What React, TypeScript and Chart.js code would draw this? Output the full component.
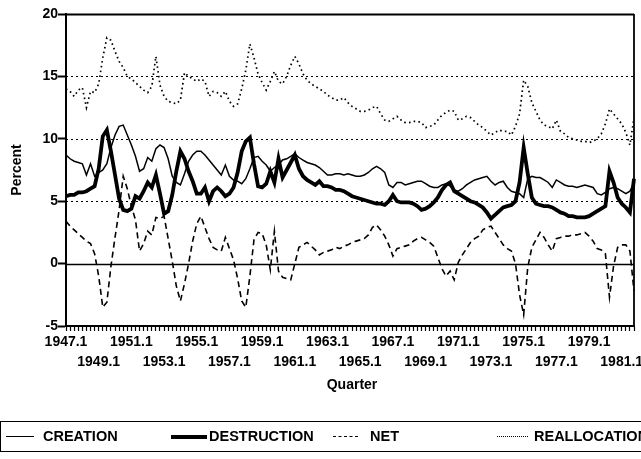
import React, { useEffect, useRef } from "react";
import { Chart, registerables } from "chart.js";

Chart.register(...registerables);

const START_YEAR = 1947;

const creation = [
  8.7, 8.4, 8.2, 8.1, 8.0, 7.1, 8.0, 7.0, 7.3, 7.5,
  8.0, 9.3, 10.3, 11.0, 11.1, 10.3, 9.5, 8.6, 7.4, 7.6,
  8.5, 8.2, 9.2, 9.5, 9.3, 8.4, 7.0, 6.5, 6.3, 7.2,
  8.2, 8.7, 9.0, 9.0, 8.7, 8.3, 7.9, 7.5, 7.1, 7.9,
  7.0, 6.7, 6.6, 6.4, 6.8, 7.6, 8.5, 8.6, 8.2, 7.9,
  7.4, 7.7, 7.9, 8.3, 8.4, 8.6, 8.8, 8.5, 8.3, 8.1,
  8.0, 7.9, 7.7, 7.4, 7.1, 7.1, 7.2, 7.2, 7.1, 7.2,
  7.1, 7.0, 7.0, 7.1, 7.3, 7.6, 7.8, 7.6, 7.3, 6.3,
  6.1, 6.5, 6.5, 6.3, 6.4, 6.5, 6.6, 6.6, 6.4, 6.2,
  6.1, 6.1, 6.3, 6.4, 6.2, 5.9, 5.8, 6.0, 6.3, 6.5,
  6.7, 6.8, 6.9, 7.0, 6.6, 6.3, 6.5, 6.6, 6.1, 5.8,
  5.7, 5.6, 5.3, 6.8, 7.0, 6.9, 6.9, 6.7, 6.5, 6.1,
  6.7, 6.5, 6.3, 6.2, 6.2, 6.1, 6.2, 6.3, 6.2, 6.1,
  5.6, 5.5, 5.7, 6.0, 6.1, 6.0, 5.8, 5.6, 5.8, 6.5,
];

const destruction = [
  5.4, 5.5, 5.5, 5.7, 5.7, 5.8, 6.0, 6.2, 7.6, 10.2,
  10.7, 9.0, 7.1, 5.2, 4.3, 4.2, 4.4, 5.4, 5.2, 5.8,
  6.5, 6.1, 7.1, 5.6, 4.0, 4.2, 5.5, 7.4, 9.0, 8.4,
  7.4, 6.6, 5.6, 5.6, 6.1, 5.0, 5.8, 6.1, 5.8, 5.4,
  5.6, 6.1, 7.3, 9.0, 9.8, 10.1, 8.0, 6.2, 6.1, 6.4,
  7.4, 6.5, 8.4, 6.9, 7.5, 8.1, 8.7, 7.6, 7.0, 6.7,
  6.5, 6.3, 6.6, 6.2, 6.2, 6.1, 5.9, 5.9, 5.8, 5.6,
  5.4, 5.3, 5.2, 5.1, 5.0, 4.9, 4.8, 4.8, 4.7, 5.0,
  5.5, 5.0, 4.9, 4.9, 4.9, 4.8, 4.6, 4.3, 4.4, 4.6,
  4.9, 5.3, 5.9, 6.3, 6.5, 5.8, 5.6, 5.4, 5.2, 5.0,
  4.9, 4.7, 4.5, 4.1, 3.6, 3.9, 4.2, 4.5, 4.6, 4.7,
  5.0, 6.5, 9.3, 7.2, 5.3, 4.8, 4.7, 4.6, 4.6, 4.5,
  4.3, 4.1, 4.0, 3.8, 3.8, 3.7, 3.7, 3.7, 3.8, 4.0,
  4.2, 4.4, 4.6, 7.4, 6.5, 5.3, 4.8, 4.5, 4.1, 6.8,
];

const net = [
  3.4, 3.0, 2.7, 2.4, 2.1, 1.8, 1.6, 0.8, -1.0, -3.5,
  -3.1, -0.2, 2.1, 4.3, 7.0, 6.0, 4.6, 3.5, 1.0, 1.6,
  2.6, 2.3, 3.7, 3.6, 3.8, 2.0, 0.2, -1.8, -3.0, -1.6,
  0.0, 1.8, 3.2, 3.8, 2.9, 2.0, 1.3, 1.1, 1.0, 2.1,
  1.2, 0.3, -1.2, -3.0, -3.5, -1.0, 1.9, 2.5, 2.4, 1.5,
  -0.5, 2.6, -0.6, -1.1, -1.2, -1.3, 0.0, 1.3, 1.5, 1.7,
  1.4, 1.1, 0.7, 0.9, 1.0, 1.1, 1.3, 1.2, 1.4, 1.5,
  1.7, 1.8, 1.9, 2.0, 2.3, 2.9, 3.1, 2.7, 2.2, 1.5,
  0.6, 1.2, 1.3, 1.4, 1.5, 1.8, 2.0, 2.1, 1.9, 1.7,
  1.4, 0.5, -0.4, -1.0, -0.6, -1.3, 0.1, 0.7, 1.2, 1.7,
  2.0, 2.2, 2.7, 2.9, 3.0, 2.5, 2.0, 1.5, 1.2, 1.0,
  0.0, -2.5, -4.1, -0.3, 1.3, 1.9, 2.5, 2.1, 1.5, 1.0,
  2.0, 2.1, 2.2, 2.2, 2.3, 2.3, 2.4, 2.5, 2.2, 1.8,
  1.2, 1.1, 0.8, -2.7, -0.2, 1.3, 1.5, 1.5, 1.0, -2.2,
];

const reallocation = [
  14.0, 13.8, 13.4, 13.9, 14.1, 12.5, 13.8, 13.7, 14.4, 16.5,
  18.1, 17.9, 17.0, 16.2, 15.7, 15.0, 14.8, 14.5, 14.2, 13.9,
  13.7, 14.2, 16.6, 14.3, 13.4, 13.0, 12.9, 12.8, 13.1, 15.3,
  15.0, 14.8, 14.6, 14.8, 14.6, 13.4, 13.8, 13.7, 13.4, 13.8,
  13.0, 12.6, 12.8, 14.0, 15.5, 17.6, 16.5, 15.2, 14.5, 13.9,
  14.6, 15.4, 14.6, 14.4, 15.0, 15.9, 16.6, 16.0, 15.2, 14.7,
  14.4, 14.2, 14.0, 13.8, 13.5, 13.3, 13.1, 13.1, 13.3, 12.9,
  12.6, 12.4, 12.2, 12.2, 12.3, 12.5, 12.6, 12.0, 11.5, 11.4,
  11.6, 11.8, 11.5, 11.3, 11.3, 11.4, 11.4, 11.3, 10.9, 11.0,
  11.1, 11.5, 11.9, 12.1, 12.3, 12.2, 11.5, 11.6, 11.8, 11.7,
  11.4, 11.1, 10.9, 10.6, 10.3, 10.5, 10.7, 10.6, 10.6, 10.3,
  11.0, 12.0, 14.7, 14.2, 12.9, 12.2, 11.5, 11.1, 11.0, 10.8,
  11.5, 10.6, 10.4, 10.1, 10.0, 9.9, 9.8, 9.8, 9.7, 9.8,
  10.0, 10.4, 11.2, 12.4, 12.0, 11.6, 11.2, 10.5, 9.5, 11.7,
];

const quarters = creation.map(
  (_, i) => `${START_YEAR + Math.floor(i / 4)}.${(i % 4) + 1}`
);

const yTicks = [-5, 0, 5, 10, 15, 20];
const dottedRefs = [5, 10, 15];
const solidRefs = [0, 20];

const FONT = "'Liberation Sans', Arial, sans-serif";

const framePlugin = {
  id: "frame",
  beforeDatasetsDraw(chart: any) {
    const { ctx, chartArea: a, scales } = chart;
    const y = scales.y;
    ctx.save();
    ctx.strokeStyle = "#000";
    ctx.setLineDash([2, 3]);
    ctx.lineWidth = 1.2;
    for (const v of dottedRefs) {
      const py = Math.round(y.getPixelForValue(v)) + 0.5;
      ctx.beginPath();
      ctx.moveTo(a.left, py);
      ctx.lineTo(a.right, py);
      ctx.stroke();
    }
    ctx.setLineDash([]);
    for (const v of solidRefs) {
      const py = Math.round(y.getPixelForValue(v)) + 0.5;
      ctx.lineWidth = v === 0 ? 1.6 : 2.2;
      ctx.beginPath();
      ctx.moveTo(a.left, py);
      ctx.lineTo(a.right, py);
      ctx.stroke();
    }
    ctx.lineWidth = 1.8;
    ctx.beginPath();
    ctx.moveTo(a.right, a.top);
    ctx.lineTo(a.right, a.bottom);
    ctx.stroke();
    ctx.restore();
  },
  afterDraw(chart: any) {
    const { ctx, chartArea: a } = chart;
    ctx.save();
    ctx.fillStyle = "#000";
    ctx.font = `bold 14px ${FONT}`;
    ctx.textAlign = "center";
    ctx.textBaseline = "middle";
    ctx.fillText("Quarter", (a.left + a.right) / 2 + 2, 385);
    ctx.translate(17, (a.top + a.bottom) / 2);
    ctx.rotate(-Math.PI / 2);
    ctx.fillText("Percent", 0, 0);
    ctx.restore();
  },
};

export default function App() {
  const ref = useRef<HTMLCanvasElement | null>(null);

  useEffect(() => {
    if (!ref.current) return;
    const chart = new Chart(ref.current, {
      type: "line",
      data: {
        labels: quarters,
        datasets: [
          {
            label: "CREATION",
            data: creation,
            borderColor: "#000",
            borderWidth: 1.5,
            pointRadius: 0,
            tension: 0,
          },
          {
            label: "DESTRUCTION",
            data: destruction,
            borderColor: "#000",
            borderWidth: 3.8,
            pointRadius: 0,
            tension: 0,
          },
          {
            label: "NET",
            data: net,
            borderColor: "#000",
            borderWidth: 1.6,
            borderDash: [6, 4],
            pointRadius: 0,
            tension: 0,
          },
          {
            label: "REALLOCATION",
            data: reallocation,
            borderColor: "#000",
            borderWidth: 1.7,
            borderDash: [1.6, 3.2],
            pointRadius: 0,
            tension: 0,
          },
        ],
      },
      options: {
        animation: false,
        responsive: false,
        maintainAspectRatio: false,
        layout: { padding: { top: 14, right: 7, left: 0, bottom: 0 } },
        plugins: {
          legend: { display: false },
          tooltip: { enabled: false },
        },
        scales: {
          x: {
            type: "category",
            offset: false,
            afterFit: (axis: any) => {
              axis.height = 133;
            },
            grid: {
              drawOnChartArea: false,
              drawTicks: true,
              tickLength: 5,
              tickColor: "#000",
              tickWidth: 1.2,
            },
            border: { display: true, color: "#000", width: 2 },
            ticks: {
              autoSkip: false,
              maxRotation: 0,
              minRotation: 0,
              padding: 1,
              color: "#000",
              font: { family: FONT, size: 14, weight: "bold", lineHeight: 1.45 },
              callback: (_v: any, index: number) => {
                const lab = quarters[index];
                if (index % 16 === 0) return lab;
                if (index % 16 === 8) return ["", lab];
                return "";
              },
            },
          },
          y: {
            min: -5,
            max: 20,
            afterFit: (axis: any) => {
              axis.width = 66;
            },
            afterBuildTicks: (axis: any) => {
              axis.ticks = yTicks.map((v) => ({ value: v }));
            },
            grid: {
              drawOnChartArea: false,
              drawTicks: true,
              tickLength: 8,
              tickColor: "#000",
              tickWidth: 2,
            },
            border: { display: true, color: "#000", width: 2 },
            ticks: {
              padding: 0,
              color: "#000",
              font: { family: FONT, size: 14, weight: "bold" },
            },
          },
        },
      },
      plugins: [framePlugin],
    } as any);
    return () => chart.destroy();
  }, []);

  const legendText: React.CSSProperties = {
    position: "absolute",
    top: 0,
    lineHeight: "29px",
    fontFamily: FONT,
    fontWeight: "bold",
    fontSize: 14.5,
    color: "#000",
    whiteSpace: "nowrap",
  };
  const sample = (left: number, width: number, style: string): React.CSSProperties => ({
    position: "absolute",
    left,
    width,
    top: 14,
    height: 0,
    borderTop: style,
  });

  return (
    <div
      style={{
        position: "fixed",
        left: 0,
        top: 0,
        width: 641,
        height: 459,
        overflow: "hidden",
        background: "#fff",
      }}
    >
      <canvas ref={ref} width={641} height={459} style={{ display: "block" }} />
      <div
        style={{
          position: "absolute",
          left: 0,
          top: 421,
          width: 700,
          height: 29,
          borderTop: "1.5px solid #000",
          borderBottom: "1.5px solid #000",
          borderLeft: "1.5px solid #000",
        }}
      >
        <div style={sample(5, 28, "1.3px solid #000")} />
        <div style={{ ...legendText, left: 42 }}>CREATION</div>
        <div style={{ ...sample(170, 36, "4px solid #000"), top: 12.5 }} />
        <div style={{ ...legendText, left: 208 }}>DESTRUCTION</div>
        <div style={sample(332, 25, "1.5px dashed #000")} />
        <div style={{ ...legendText, left: 369 }}>NET</div>
        <div style={sample(496, 31, "1.5px dotted #000")} />
        <div style={{ ...legendText, left: 533 }}>REALLOCATION</div>
      </div>
    </div>
  );
}
